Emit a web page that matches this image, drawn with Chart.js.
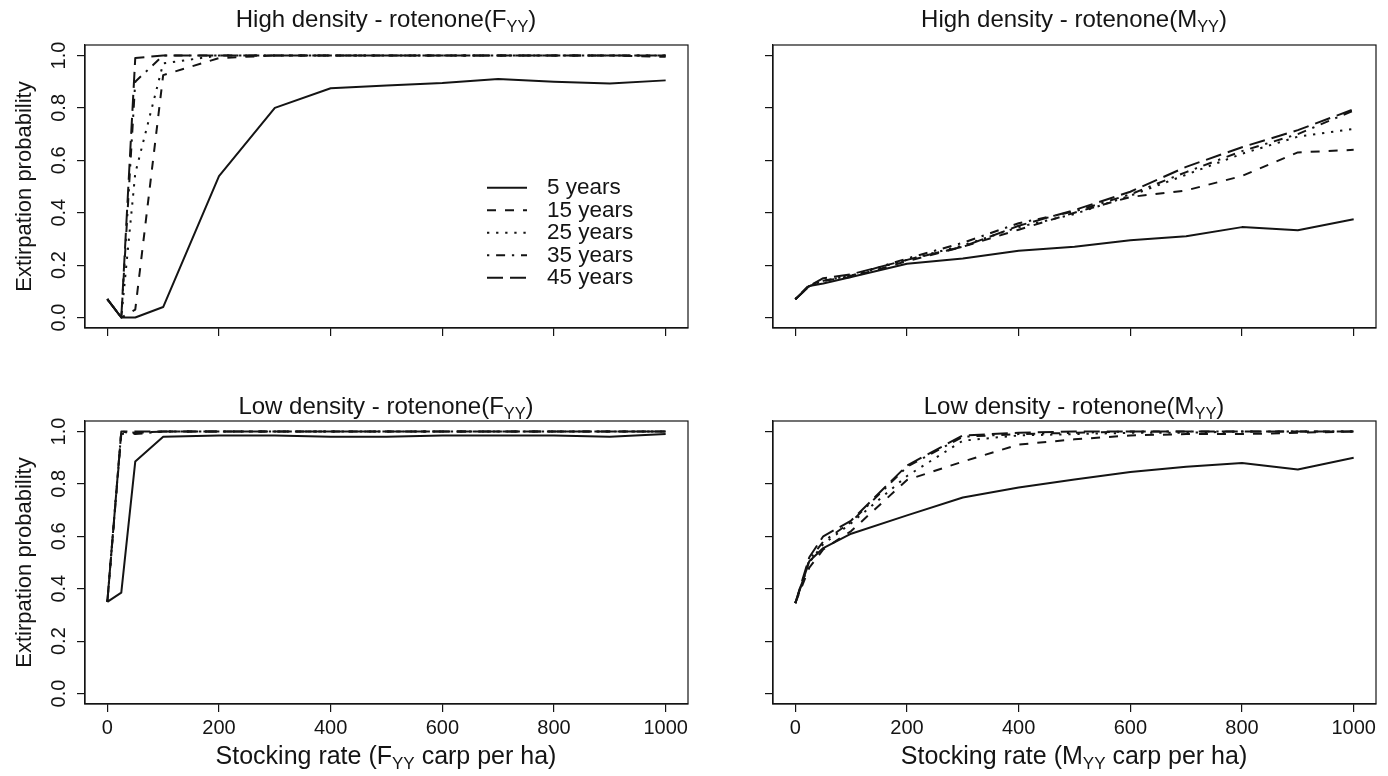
<!DOCTYPE html>
<html>
<head>
<meta charset="utf-8">
<script src="https://cdn.jsdelivr.net/npm/chart.js@4/dist/chart.umd.min.js"></script>
<style>
  body { margin: 0; background: #fff; width: 1388px; height: 776px; overflow: hidden;
         font-family: "Liberation Sans", Arial, sans-serif; color: #141414; }
  canvas { position: absolute; }
  .lbl { position: absolute; white-space: nowrap; transform: translate(-50%, -50%); }
  .main { font-size: 24px; }
  .xlab { font-size: 25px; }
  sub { font-size: 68%; vertical-align: -0.3em; line-height: 0; }
</style>
</head>
<body>
<canvas id="hiF" width="694" height="388" style="left:0;top:0"></canvas>
<canvas id="hiM" width="694" height="388" style="left:694px;top:0"></canvas>
<canvas id="loF" width="694" height="388" style="left:0;top:388px"></canvas>
<canvas id="loM" width="694" height="388" style="left:694px;top:388px"></canvas>

<div class="lbl main" style="left:386px;top:19px">High density - rotenone(F<sub>YY</sub>)</div>
<div class="lbl main" style="left:1074px;top:19px">High density - rotenone(M<sub>YY</sub>)</div>
<div class="lbl main" style="left:386px;top:406px">Low density - rotenone(F<sub>YY</sub>)</div>
<div class="lbl main" style="left:1074px;top:406px">Low density - rotenone(M<sub>YY</sub>)</div>
<div class="lbl xlab" style="left:386px;top:755px">Stocking rate (F<sub>YY</sub> carp per ha)</div>
<div class="lbl xlab" style="left:1074px;top:755px">Stocking rate (M<sub>YY</sub> carp per ha)</div>

<script>
const xRates = [0, 25, 50, 100, 200, 300, 400, 500, 600, 700, 800, 900, 1000];
const xTicks = [0, 200, 400, 600, 800, 1000];
const yTicks = [0, 0.2, 0.4, 0.6, 0.8, 1.0];
const horizons = ['5 years', '15 years', '25 years', '35 years', '45 years'];

// high density, F_YY stocking
const highF5  = [0.07, 0.00, 0.00, 0.04, 0.54, 0.80, 0.875, 0.885, 0.895, 0.91, 0.90, 0.893, 0.905];
const highF15 = [0.07, 0.00, 0.03, 0.925, 0.99, 1.00, 1.00, 1.00, 1.00, 1.00, 1.00, 1.00, 0.995];
const highF25 = [0.07, 0.00, 0.55, 0.97, 1.00, 1.00, 1.00, 1.00, 1.00, 1.00, 1.00, 1.00, 1.00];
const highF35 = [0.07, 0.00, 0.90, 1.00, 1.00, 1.00, 1.00, 1.00, 1.00, 1.00, 1.00, 1.00, 1.00];
const highF45 = [0.07, 0.00, 0.99, 1.00, 1.00, 1.00, 1.00, 1.00, 1.00, 1.00, 1.00, 1.00, 1.00];

// high density, M_YY stocking
const highM5  = [0.07, 0.12, 0.13, 0.155, 0.205, 0.225, 0.255, 0.27, 0.295, 0.31, 0.345, 0.333, 0.375];
const highM15 = [0.07, 0.12, 0.14, 0.155, 0.215, 0.27, 0.335, 0.40, 0.46, 0.485, 0.54, 0.63, 0.64];
const highM25 = [0.07, 0.12, 0.14, 0.16, 0.22, 0.275, 0.345, 0.395, 0.465, 0.545, 0.625, 0.69, 0.72];
const highM35 = [0.07, 0.125, 0.14, 0.16, 0.225, 0.285, 0.36, 0.405, 0.47, 0.555, 0.635, 0.70, 0.79];
const highM45 = [0.07, 0.12, 0.15, 0.165, 0.22, 0.27, 0.35, 0.41, 0.48, 0.575, 0.65, 0.715, 0.795];

// low density, F_YY stocking
const lowF5  = [0.35, 0.385, 0.885, 0.98, 0.985, 0.985, 0.98, 0.98, 0.985, 0.985, 0.985, 0.98, 0.99];
const lowF15 = [0.35, 0.99, 0.995, 1.00, 1.00, 1.00, 1.00, 1.00, 1.00, 1.00, 1.00, 1.00, 1.00];
const lowF25 = [0.35, 1.00, 0.995, 1.00, 1.00, 1.00, 1.00, 1.00, 1.00, 1.00, 1.00, 1.00, 1.00];
const lowF35 = [0.35, 1.00, 0.99, 1.00, 1.00, 1.00, 1.00, 1.00, 1.00, 1.00, 1.00, 1.00, 1.00];
const lowF45 = [0.35, 1.00, 1.00, 1.00, 1.00, 1.00, 1.00, 1.00, 1.00, 1.00, 1.00, 1.00, 1.00];

// low density, M_YY stocking
const lowM5  = [0.345, 0.505, 0.555, 0.61, 0.68, 0.748, 0.786, 0.817, 0.845, 0.865, 0.88, 0.855, 0.90];
const lowM15 = [0.345, 0.48, 0.55, 0.62, 0.815, 0.885, 0.95, 0.97, 0.985, 0.99, 0.99, 0.995, 1.00];
const lowM25 = [0.345, 0.50, 0.57, 0.65, 0.83, 0.965, 0.985, 0.99, 0.995, 0.995, 1.00, 1.00, 1.00];
const lowM35 = [0.345, 0.51, 0.58, 0.655, 0.865, 0.98, 0.99, 0.995, 1.00, 1.00, 1.00, 1.00, 1.00];
const lowM45 = [0.345, 0.52, 0.60, 0.66, 0.87, 0.985, 0.995, 1.00, 1.00, 1.00, 1.00, 1.00, 1.00];

const ink = '#141414';
const fam = '"Liberation Sans", Arial, sans-serif';
const dashes = [[], [9, 9], [2.3, 6.8], [2.3, 6.8, 9, 6.8], [16, 7]];

// box round the plot region, like R's box()
const frame = {
    id: 'frame',
    afterDraw(chart) {
        const a = chart.chartArea, ctx = chart.ctx;
        ctx.save();
        ctx.strokeStyle = ink;
        ctx.lineWidth = 1.2;
        ctx.strokeRect(a.left, a.top, a.right - a.left, a.bottom - a.top);
        ctx.restore();
    }
};

// legend drawn inside the plot, anchored at a data position
const yearKey = {
    id: 'yearKey',
    afterDatasetsDraw(chart, args, opts) {
        if (!opts.show) return;
        const ctx = chart.ctx;
        const x0 = chart.scales.x.getPixelForValue(opts.atX);
        const y0 = chart.scales.y.getPixelForValue(opts.atY);
        ctx.save();
        ctx.font = '22.5px ' + fam;
        ctx.fillStyle = ink;
        ctx.textBaseline = 'middle';
        chart.data.datasets.forEach((d, i) => {
            const y = y0 + i * opts.rowGap;
            ctx.strokeStyle = d.borderColor;
            ctx.lineWidth = d.borderWidth;
            ctx.setLineDash(d.borderDash);
            ctx.beginPath();
            ctx.moveTo(x0, y);
            ctx.lineTo(x0 + opts.lineLen, y);
            ctx.stroke();
            ctx.setLineDash([]);
            ctx.fillText(d.label, x0 + opts.lineLen + opts.textGap, y);
        });
        ctx.restore();
    }
};

function makePanel(id, series, showX, showY, padTop, padRight, xAxisH, withKey) {
    const datasets = series.map((arr, i) => ({
        label: horizons[i],
        data: xRates.map((x, j) => ({ x: x, y: arr[j] })),
        borderColor: ink,
        borderWidth: 2,
        borderDash: dashes[i],
        borderJoinStyle: 'round',
        pointRadius: 0,
        tension: 0,
        fill: false
    }));

    return new Chart(document.getElementById(id), {
        type: 'line',
        data: { datasets: datasets },
        options: {
            responsive: false,
            animation: false,
            layout: { padding: { top: padTop, right: padRight, left: 0, bottom: 0 } },
            plugins: {
                legend: { display: false },
                tooltip: { enabled: false },
                yearKey: { show: withKey, atX: 680, atY: 0.495, rowGap: 22.5, lineLen: 40, textGap: 20 }
            },
            scales: {
                x: {
                    type: 'linear', min: -40, max: 1040,
                    afterBuildTicks: s => { s.ticks = xTicks.map(v => ({ value: v })); },
                    afterFit: s => { s.height = xAxisH; },
                    grid: { drawOnChartArea: false, drawTicks: true, tickLength: 8, color: ink, lineWidth: 1.2 },
                    border: { display: true, color: ink, width: 1.2 },
                    ticks: { display: showX, autoSkip: false, maxRotation: 0, padding: 4, color: ink,
                             font: { family: fam, size: 20 }, callback: v => String(v) }
                },
                y: {
                    min: -0.04, max: 1.04,
                    afterBuildTicks: s => { s.ticks = yTicks.map(v => ({ value: v })); },
                    afterFit: s => { s.width = showY ? 85 : 79; },
                    grid: { drawOnChartArea: false, drawTicks: true, tickLength: 8, color: ink, lineWidth: 1.2 },
                    border: { display: true, color: ink, width: 1.2 },
                    ticks: { display: showY, minRotation: 90, maxRotation: 90, crossAlign: 'center', padding: 4,
                             color: ink, font: { family: fam, size: 20 },
                             callback: v => v.toFixed(1) },
                    title: { display: showY, text: 'Extirpation probability', color: ink,
                             font: { family: fam, size: 22 }, padding: { top: 12, bottom: 0 } }
                }
            }
        },
        plugins: [frame, yearKey]
    });
}

makePanel('hiF', [highF5, highF15, highF25, highF35, highF45], false, true, 45, 6, 60, true);
makePanel('hiM', [highM5, highM15, highM25, highM35, highM45], false, false, 45, 12, 60, false);
makePanel('loF', [lowF5, lowF15, lowF25, lowF35, lowF45], true, true, 33, 6, 72, false);
makePanel('loM', [lowM5, lowM15, lowM25, lowM35, lowM45], true, false, 33, 12, 72, false);
</script>
</body>
</html>
